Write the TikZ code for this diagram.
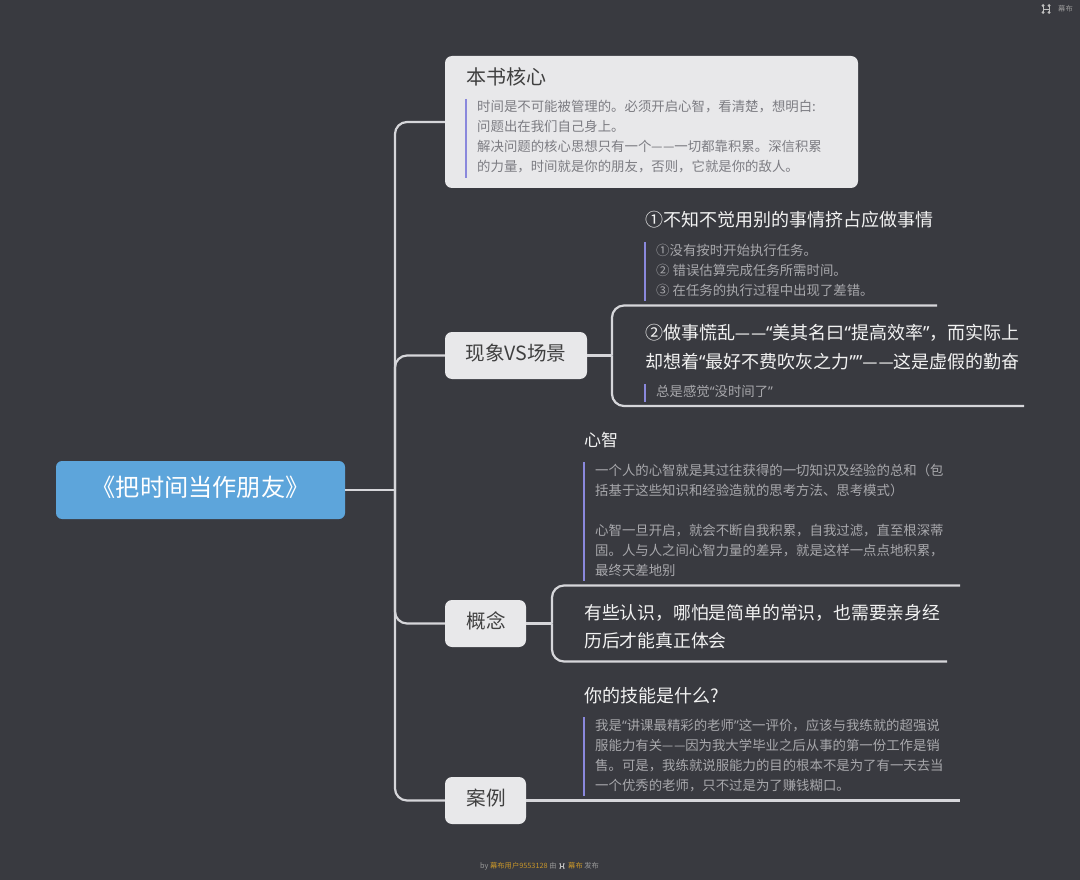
\documentclass[tikz,border=0pt]{standalone}
\usepackage{fontspec}
\setmainfont{Noto Sans CJK SC}
\newfontfamily\quotefont{Noto Sans}
\newfontfamily\dashfont[Scale=0.82]{Noto Sans}
\newcommand{\qo}{{\quotefont “}}
\newcommand{\qc}{{\quotefont ”}}
\newcommand{\dd}{\raisebox{0.06em}{\dashfont —\kern0.1em—}}
\definecolor{canvas}{HTML}{393A40}
\definecolor{rootblue}{HTML}{5DA5DB}
\definecolor{cardgrey}{HTML}{E8E8EA}
\definecolor{branchgrey}{HTML}{D6D6DA}
\definecolor{barlilac}{HTML}{8A88DC}
\definecolor{bodydark}{HTML}{A8A8AC}
\definecolor{bodylight}{HTML}{7C7C82}
\definecolor{footgold}{HTML}{C8962A}
\begin{document}
\begin{tikzpicture}[
    x=1pt, y=-1pt,
    root/.style={rectangle, rounded corners=6pt, fill=rootblue, text=white, inner sep=0pt,
        minimum width=289pt, minimum height=58pt, text height=20pt, text depth=8pt,
        font=\fontsize{24.2}{28}\selectfont},
    card/.style={rectangle, rounded corners=7pt, fill=cardgrey, text=black!75, inner sep=0pt,
        text height=16pt, text depth=7pt, font=\fontsize{19.6}{26}\selectfont},
    title/.style={anchor=north west, inner sep=0pt, align=left, text=white!95!black,
        font=\fontsize{18}{29}\selectfont},
    body/.style={anchor=north west, inner sep=0pt, align=left, text=bodydark,
        font=\fontsize{13.4}{20}\selectfont},
    branch/.style={draw=branchgrey, line width=2.2pt, rounded corners=12pt},
    quotebar/.style={draw=barlilac, line width=2.8pt},
    foot/.style={anchor=west, inner sep=0pt, text=black!40, font=\fontsize{7.3}{9}\selectfont},
    mubulogo/.pic={
        \draw[line width=0.8pt] (-3,0) -- (3,0);
        \fill (-3,-3.4) circle (1.6pt) (-3,3.4) circle (1.6pt) (3,-3.4) circle (1.6pt) (3,3.4) circle (1.6pt);
        \draw[line width=0.8pt] (-3,-3.4) -- (-3,3.4) (3,-3.4) -- (3,3.4);
    },
]
    \useasboundingbox[fill=canvas] (0,0) rectangle (1080,880);

    % Root and first level
    \node[root] (root) at (200.5,490) {《把时间当作朋友》};
    \node[card, minimum width=413pt, minimum height=132pt] (core) at (651.5,122) {};
    \node[card, minimum width=142pt, minimum height=47pt] (scene) at (516,355.5) {现象VS场景};
    \node[card, minimum width=81pt, minimum height=47pt] (concept) at (485.5,623.5) {\hspace{1pt}概念};
    \node[card, minimum width=81pt, minimum height=47pt] (case) at (485.5,800.5) {\hspace{1pt}案例};

    % Trunk
    \coordinate (trunk) at (395,490);
    \coordinate (sceneturn) at (612,355.5);
    \coordinate (conceptturn) at (552,623.5);
    \draw[branch] (root.east) -- (trunk);
    \draw[branch] (trunk) |- (core.west);
    \draw[branch] (trunk) |- (scene.west);
    \draw[branch] (trunk) |- (concept.west);
    \draw[branch] (trunk) |- (case.west);

    % Core card
    \node[anchor=north west, inner sep=0pt, text=black!75, font=\fontsize{20}{24}\selectfont] (coretitle) at (466,67) {本书核心};
    \node[body, text=bodylight] (corebody) at (477,100) {时间是不可能被管理的。必须开启心智，看清楚，想明白:\\问题出在我们自己身上。\\解决问题的核心思想只有一个\dd{}一切都靠积累。深信积累\\的力量，时间就是你的朋友，否则，它就是你的敌人。};
    \draw[quotebar] (466,99) -- (466,178);

    % Scene branch
    \node[title] (habit) at (645,211) {①不知不觉用别的事情挤占应做事情};
    \node[body] (habitbody) at (656,244) {①没有按时开始执行任务。\\② 错误估算完成任务所需时间。\\③ 在任务的执行过程中出现了差错。};
    \draw[quotebar] (645,242) -- (645,301);
    \node[title] (panic) at (645,324) {②做事慌乱\dd\qo{}美其名曰\qo{}提高效率\qc{}，而实际上\\却想着\qo{}最好不费吹灰之力\qc\qc\dd{}这是虚假的勤奋};
    \node[body] (panicbody) at (656,385) {总是感觉\qo{}没时间了\qc{}};
    \draw[quotebar] (645,384) -- (645,402);
    \coordinate (panictop) at (937,305.5);
    \coordinate (panicend) at (1024,406);
    \draw[branch] (scene.east) -- (sceneturn);
    \draw[branch] (sceneturn) |- (panictop);
    \draw[branch] (sceneturn) |- (panicend);

    % Concept branch
    \node[title, font=\fontsize{17}{22}\selectfont] (mind) at (584,432) {心智};
    \node[body] (mindbody) at (595,464) {一个人的心智就是其过往获得的一切知识及经验的总和（包\\括基于这些知识和经验造就的思考方法、思考模式）\\[20pt]心智一旦开启，就会不断自我积累，自我过滤，直至根深蒂\\固。人与人之间心智力量的差异，就是这样一点点地积累，\\最终天差地别};
    \draw[quotebar] (584,462) -- (584,581);
    \node[title, font=\fontsize{17.8}{28.5}\selectfont] (insight) at (584,604) {有些认识，哪怕是简单的常识，也需要亲身经\\历后才能真正体会};
    \coordinate (insighttop) at (960,585.5);
    \coordinate (insightend) at (947,661.5);
    \draw[branch] (concept.east) -- (conceptturn);
    \draw[branch] (conceptturn) |- (insighttop);
    \draw[branch] (conceptturn) |- (insightend);

    % Case branch
    \node[title, font=\fontsize{18}{22}\selectfont] (skill) at (584,687) {你的技能是什么?};
    \node[body] (skillbody) at (595,719) {我是\qo{}讲课最精彩的老师\qc{}这一评价，应该与我练就的超强说\\服能力有关\dd{}因为我大学毕业之后从事的第一份工作是销\\售。可是，我练就说服能力的目的根本不是为了有一天去当\\一个优秀的老师，只不过是为了赚钱糊口。};
    \draw[quotebar] (584,717) -- (584,796);
    \coordinate (caseend) at (960,800.5);
    \draw[branch] (case.east) -- (caseend);

    % Watermarks
    \pic[draw=black!25, fill=black!25] at (1046,9) {mubulogo};
    \node[foot] (brand) at (1058,9) {幕布};
    \node[foot] (footby) at (480,866) {by \textcolor{footgold}{幕布用户9553128} 由};
    \pic[draw=black!25, fill=black!25, scale=0.6] at (562,866) {mubulogo};
    \node[foot] (footbrand) at (568,866) {\textcolor{footgold}{幕布} 发布};
\end{tikzpicture}
\end{document}
